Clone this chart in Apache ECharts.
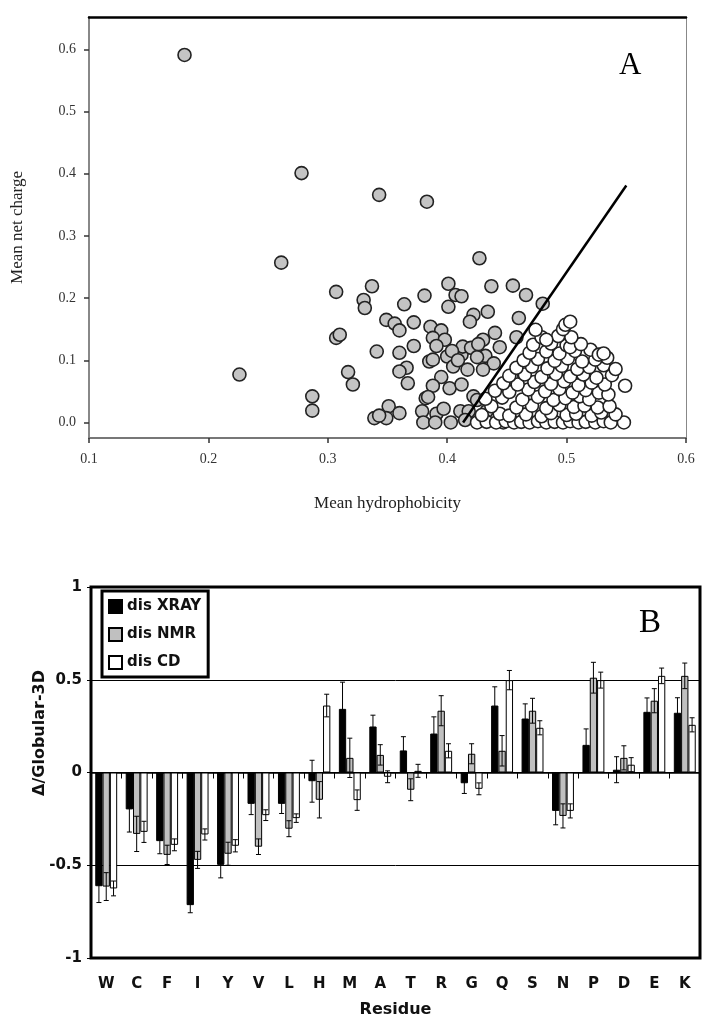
<!DOCTYPE html>
<html>
<head>
<meta charset="utf-8">
<script src="https://cdn.jsdelivr.net/npm/echarts@6/dist/echarts.min.js"></script>
<style>
html,body{margin:0;padding:0;background:#fff;}
#c{width:721px;height:1020px;}
</style>
</head>
<body>
<div id="c"></div>
<script>
// ---------- Panel A data ----------
const grayPoints = [
[0.180,0.591],[0.278,0.401],[0.343,0.366],[0.383,0.355],[0.261,0.257],[0.226,0.077],
[0.307,0.210],[0.337,0.219],[0.330,0.197],[0.331,0.184],[0.307,0.136],[0.310,0.141],
[0.317,0.081],[0.321,0.061],[0.287,0.042],[0.287,0.019],[0.341,0.114],[0.349,0.165],
[0.356,0.159],[0.360,0.148],[0.372,0.161],[0.364,0.190],[0.381,0.204],[0.360,0.112],
[0.372,0.123],[0.366,0.088],[0.360,0.082],[0.367,0.063],[0.351,0.026],[0.360,0.015],
[0.349,0.007],[0.339,0.007],[0.343,0.011],[0.379,0.018],[0.380,0.000],[0.382,0.039],
[0.385,0.098],[0.386,0.154],[0.401,0.223],[0.407,0.205],[0.412,0.203],[0.401,0.186],
[0.437,0.219],[0.455,0.220],[0.466,0.205],[0.480,0.191],[0.427,0.264],[0.434,0.178],
[0.422,0.173],[0.419,0.162],[0.460,0.168],[0.395,0.148],[0.388,0.136],[0.398,0.133],
[0.391,0.123],[0.388,0.101],[0.400,0.106],[0.405,0.090],[0.412,0.109],[0.413,0.122],
[0.420,0.120],[0.430,0.133],[0.432,0.107],[0.440,0.144],[0.444,0.121],[0.439,0.095],
[0.458,0.137],[0.454,0.072],[0.395,0.073],[0.402,0.055],[0.412,0.061],[0.388,0.059],
[0.384,0.041],[0.391,0.014],[0.390,0.000],[0.403,0.000],[0.411,0.018],[0.418,0.018],
[0.422,0.042],[0.425,0.036],[0.433,0.018],[0.447,0.000],[0.404,0.115],[0.409,0.100],
[0.417,0.085],[0.425,0.105],[0.430,0.085],[0.426,0.126],[0.397,0.022],[0.415,0.004],
[0.428,0.005]
];
const whitePoints = [
[0.425,0.000],[0.433,0.001],[0.441,0.000],[0.449,0.002],[0.456,0.000],[0.462,0.001],
[0.469,0.000],[0.476,0.002],[0.483,0.000],[0.490,0.001],[0.497,0.000],[0.503,0.002],
[0.510,0.000],[0.516,0.001],[0.524,0.000],[0.531,0.002],[0.537,0.000],[0.548,0.000],
[0.429,0.012],[0.444,0.014],[0.452,0.011],[0.466,0.013],[0.479,0.010],[0.487,0.015],
[0.500,0.012],[0.508,0.014],[0.521,0.011],[0.529,0.016],[0.541,0.013],
[0.437,0.026],[0.458,0.024],[0.471,0.027],[0.483,0.023],[0.494,0.028],[0.506,0.025],
[0.515,0.027],[0.526,0.024],[0.536,0.026],
[0.432,0.038],[0.446,0.040],[0.463,0.037],[0.476,0.041],[0.489,0.036],[0.499,0.039],
[0.511,0.042],[0.519,0.037],[0.527,0.048],[0.535,0.045],
[0.440,0.051],[0.452,0.049],[0.468,0.053],[0.482,0.050],[0.494,0.054],[0.505,0.048],
[0.516,0.052],
[0.447,0.063],[0.459,0.061],[0.473,0.065],[0.487,0.062],[0.498,0.066],[0.510,0.060],
[0.521,0.064],[0.532,0.061],[0.549,0.059],
[0.452,0.075],[0.465,0.077],[0.479,0.073],[0.491,0.078],[0.503,0.074],[0.514,0.077],
[0.525,0.072],[0.538,0.076],
[0.458,0.088],[0.471,0.090],[0.484,0.087],[0.496,0.091],[0.509,0.086],[0.519,0.089],
[0.531,0.092],[0.541,0.086],
[0.464,0.100],[0.476,0.102],[0.490,0.099],[0.501,0.103],[0.513,0.098],[0.524,0.101],
[0.534,0.104],
[0.469,0.112],[0.483,0.114],[0.494,0.111],[0.507,0.115],[0.520,0.117],[0.527,0.109],
[0.531,0.111],
[0.472,0.125],[0.487,0.127],[0.500,0.124],[0.503,0.121],[0.512,0.126],
[0.479,0.137],[0.493,0.139],[0.504,0.137],[0.483,0.133],
[0.474,0.149],[0.497,0.150],[0.499,0.157],[0.503,0.162]
];
const boundaryHydro = [0.4133, 0.55];
const boundaryCharge = [0.0, 0.381];
const xTicksA = [0.1, 0.2, 0.3, 0.4, 0.5, 0.6];
const yTicksA = [0.0, 0.1, 0.2, 0.3, 0.4, 0.5, 0.6];

// ---------- Panel B data ----------
const residues = ['W','C','F','I','Y','V','L','H','M','A','T','R','G','Q','S','N','P','D','E','K'];
const xray    = [-0.613,-0.199,-0.370,-0.715,-0.498,-0.169,-0.169,-0.047,0.343,0.248,0.119,0.210,-0.058,0.361,0.291,-0.207,0.149,0.015,0.327,0.322];
const xrayErr = [0.088,0.122,0.068,0.041,0.070,0.058,0.052,0.113,0.144,0.061,0.074,0.090,0.055,0.101,0.079,0.075,0.086,0.070,0.075,0.081];
const nmr     = [-0.615,-0.331,-0.444,-0.471,-0.438,-0.400,-0.303,-0.147,0.079,0.095,-0.093,0.333,0.101,0.117,0.333,-0.234,0.511,0.079,0.387,0.521];
const nmrErr  = [0.075,0.095,0.052,0.046,0.062,0.042,0.043,0.098,0.106,0.055,0.059,0.081,0.054,0.082,0.067,0.065,0.083,0.065,0.065,0.069];
const cd      = [-0.625,-0.320,-0.390,-0.334,-0.395,-0.230,-0.246,0.361,-0.149,-0.023,0.009,0.117,-0.088,0.498,0.241,-0.207,0.498,0.042,0.521,0.257];
const cdErr   = [0.040,0.057,0.032,0.030,0.033,0.029,0.023,0.061,0.055,0.032,0.035,0.038,0.032,0.052,0.038,0.038,0.043,0.038,0.042,0.038];
const yTicksB = [-1, -0.5, 0, 0.5, 1];

const CAT_GAP = 0.28;
function errSeries(vals, errs, offset) {
  return {
    type: 'custom', xAxisIndex: 2, yAxisIndex: 2, z: 10, silent: true,
    data: vals.map((v, i) => [i, v, errs[i]]),
    renderItem: function (params, api) {
      const i = api.value(0), v = api.value(1), e = api.value(2);
      const band = api.size([1, 0])[0];
      const bw = band * (1 - CAT_GAP) / 3;
      const c = api.coord([i, v]);
      const x = c[0] + offset * bw;
      const top = api.coord([i, v + e])[1];
      const bot = api.coord([i, v - e])[1];
      const hw = 2.5;
      const st = { stroke: '#000', lineWidth: 1 };
      return { type: 'group', children: [
        { type: 'line', shape: { x1: x, y1: top, x2: x, y2: bot }, style: st },
        { type: 'line', shape: { x1: x - hw, y1: top, x2: x + hw, y2: top }, style: st },
        { type: 'line', shape: { x1: x - hw, y1: bot, x2: x + hw, y2: bot }, style: st }
      ]};
    }
  };
}

const serif = 'Liberation Serif';
const sans = 'DejaVu Sans';
const chart = echarts.init(document.getElementById('c'), null, { renderer: 'canvas' });
chart.setOption({
  animation: false,
  backgroundColor: '#fff',
  grid: [
    { left: 89, top: 17, width: 597, height: 421, show: false },
    { left: 91, top: 587, width: 609, height: 371, show: true, borderColor: '#000', borderWidth: 3 }
  ],
  xAxis: [
    { gridIndex: 0, type: 'value', min: 0.1, max: 0.6, interval: 0.1, position: 'bottom',
      name: 'Mean hydrophobicity', nameLocation: 'middle', nameGap: 57,
      nameTextStyle: { fontFamily: serif, fontSize: 17, color: '#222' },
      axisLine: { show: true, onZero: false, lineStyle: { color: '#777', width: 2 } },
      axisTick: { show: true, length: 5, lineStyle: { color: '#333', width: 1.5 } },
      axisLabel: { margin: 14, fontFamily: serif, fontSize: 14, color: '#333',
        formatter: v => v.toFixed(1) },
      splitLine: { show: false } },
    { gridIndex: 0, type: 'value', min: 0.1, max: 0.6, position: 'top',
      axisLine: { show: true, onZero: false, lineStyle: { color: '#000', width: 2.5 } },
      axisTick: { show: false }, axisLabel: { show: false }, splitLine: { show: false } },
    { gridIndex: 1, type: 'category', data: residues, position: 'bottom',
      axisLine: { show: true, onZero: true, lineStyle: { color: '#000', width: 1.5 } },
      axisTick: { show: true, length: 6, lineStyle: { color: '#000', width: 1 } },
      axisLabel: { show: false }, splitLine: { show: false } },
    { gridIndex: 1, type: 'category', data: residues, position: 'bottom',
      axisLine: { show: false, onZero: false }, axisTick: { show: false },
      name: 'Residue', nameLocation: 'middle', nameGap: 44,
      nameTextStyle: { fontFamily: sans, fontSize: 16, fontWeight: 'bold', color: '#111' },
      axisLabel: { margin: 19, fontFamily: sans, fontSize: 15, fontWeight: 'bold', color: '#111' },
      splitLine: { show: false } }
  ],
  yAxis: [
    { gridIndex: 0, type: 'value', min: -0.025, max: 0.652,
      name: 'Mean net charge', nameLocation: 'middle', nameGap: 63,
      nameTextStyle: { fontFamily: serif, fontSize: 17, color: '#222' },
      axisLine: { show: true, onZero: false, lineStyle: { color: '#888', width: 2 } },
      axisTick: { show: true, length: 5, customValues: yTicksA, lineStyle: { color: '#333', width: 1.5 } },
      axisLabel: { margin: 13, fontFamily: serif, fontSize: 14, color: '#333',
        customValues: yTicksA, formatter: v => v.toFixed(1) },
      splitLine: { show: false } },
    { gridIndex: 0, type: 'value', min: -0.025, max: 0.652, position: 'right',
      axisLine: { show: true, onZero: false, lineStyle: { color: '#888', width: 1 } },
      axisTick: { show: false }, axisLabel: { show: false }, splitLine: { show: false } },
    { gridIndex: 1, type: 'value', min: -1, max: 1, interval: 0.5,
      axisLine: { show: false, onZero: false },
      axisTick: { show: true, length: 4, lineStyle: { color: '#000', width: 1 } },
      axisLabel: { margin: 9, fontFamily: sans, fontSize: 15, fontWeight: 'bold', color: '#111',
        formatter: v => String(v) },
      splitLine: { show: true, lineStyle: { color: '#000', width: 1 } } }
  ],
  legend: {
    data: ['dis XRAY', 'dis NMR', 'dis CD'],
    orient: 'vertical', left: 102, top: 591,
    padding: [8, 7, 7, 6],
    borderColor: '#000', borderWidth: 3,
    itemWidth: 13, itemHeight: 13, itemGap: 13, icon: 'rect',
    textStyle: { fontFamily: sans, fontSize: 15, fontWeight: 'bold', color: '#111', lineHeight: 14 }
  },
  graphic: [
    { type: 'text', left: 619, top: 50, style: { text: 'A', font: '31px "Liberation Serif"', fill: '#000' } },
    { type: 'text', left: 639, top: 607, style: { text: 'B', font: '33px "Liberation Serif"', fill: '#000' } },
    { type: 'text', x: 40, y: 733, rotation: Math.PI / 2,
      style: { text: 'Δ/Globular-3D', font: 'bold 16px "DejaVu Sans"', fill: '#111',
        align: 'center', verticalAlign: 'middle' } }
  ],
  series: [
    { type: 'scatter', xAxisIndex: 0, yAxisIndex: 0, data: grayPoints, symbolSize: 13,
      itemStyle: { color: '#c4c4c4', borderColor: '#222', borderWidth: 1.6, opacity: 1 } },
    { type: 'scatter', xAxisIndex: 0, yAxisIndex: 0, data: whitePoints, symbolSize: 13,
      itemStyle: { color: '#fff', borderColor: '#222', borderWidth: 1.6, opacity: 1 } },
    { type: 'line', xAxisIndex: 0, yAxisIndex: 0, z: 5, showSymbol: false, symbol: 'none',
      data: boundaryHydro.map((h, i) => [h, boundaryCharge[i]]),
      lineStyle: { color: '#000', width: 2.5 } },
    { name: 'dis XRAY', type: 'bar', xAxisIndex: 2, yAxisIndex: 2, data: xray,
      barGap: '0%', barCategoryGap: '28%',
      itemStyle: { color: '#000', borderColor: '#000', borderWidth: 1 } },
    { name: 'dis NMR', type: 'bar', xAxisIndex: 2, yAxisIndex: 2, data: nmr,
      barGap: '0%', barCategoryGap: '28%',
      itemStyle: { color: '#c0c0c0', borderColor: '#000', borderWidth: 1 } },
    { name: 'dis CD', type: 'bar', xAxisIndex: 2, yAxisIndex: 2, data: cd,
      barGap: '0%', barCategoryGap: '28%',
      itemStyle: { color: '#fff', borderColor: '#000', borderWidth: 1 } },
    errSeries(xray, xrayErr, -1),
    errSeries(nmr, nmrErr, 0),
    errSeries(cd, cdErr, 1)
  ]
});
</script>
</body>
</html>
